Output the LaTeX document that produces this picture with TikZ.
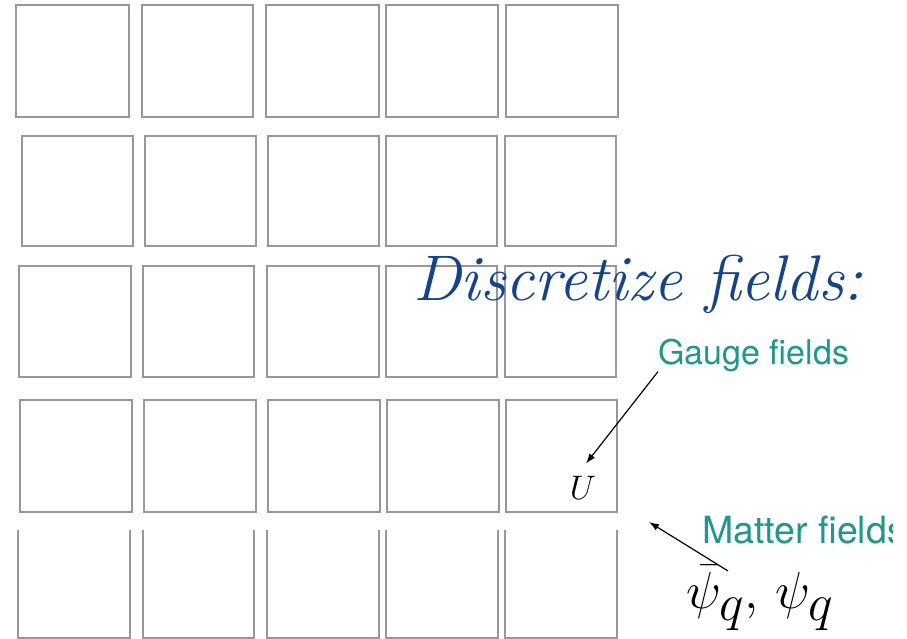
\documentclass[tikz,border=0pt]{standalone}
\usepackage{fix-cm}
\usepackage{fontspec}
\newfontfamily\labelfont{TeX Gyre Heros}
\usetikzlibrary{arrows.meta, positioning}
\definecolor{GridGray}{RGB}{150,152,158}
\definecolor{TitleBlue}{RGB}{22,66,134}
\definecolor{LabelTeal}{RGB}{32,150,140}
\newcommand{\bigsub}[1]{\raisebox{-5pt}{$#1$}}

\begin{document}
\begin{tikzpicture}[
  x=1pt, y=-1pt,
  cell/.style={draw=GridGray, line width=1.8pt},
  lbl/.style={inner sep=0pt, anchor=base west, text=LabelTeal,
              font=\labelfont\fontsize{34}{38}\selectfont},
  arrow/.style={-{Latex[length=10pt, width=7pt]}, line width=1.2pt, black},
]
\useasboundingbox (0,0) rectangle (907,639);

% Lattice, closed cells
\foreach \xl/\xr in {16/129, 142/253, 266/379, 386/498, 506/618}
  \draw[cell] (\xl,5) rectangle (\xr,117);
\foreach \xl/\xr in {22/133, 145/256, 268/379, 386/497, 505/616}
  \draw[cell] (\xl,136) rectangle (\xr,246);
\foreach \xl/\xr in {19/131, 143/254, 267/379, 386/497, 505/616}
  \draw[cell] (\xl,266) rectangle (\xr,377);
\foreach \xl/\xr in {20/132, 144/256, 268/380, 387/499, 506/617}
  \draw[cell] (\xl,400) rectangle (\xr,512);

% Bottom row, open at the top
\foreach \xl/\xr in {18/130, 143/254, 267/379, 386/498, 505/617}
  \draw[cell] (\xl,530) -- (\xl,638) -- (\xr,638) -- (\xr,530);

% Heading
\node[inner sep=0pt, anchor=base west, text=TitleBlue,
      font=\fontsize{64.5}{72}\selectfont\itshape] (title) at (413,300)
  {Discretize fields:};

% Labels
\node[lbl] (gauge) at (658,364) {Gauge fields};
\node[inner sep=0pt, anchor=base, font=\fontsize{34}{40}\selectfont] (u) at (583,499) {$U$};

\begin{scope}
  \clip (0,0) rectangle (892,639);
  \node[lbl, font=\labelfont\fontsize{37.5}{42}\selectfont] (matter) at (702,543) {Matter fields};
\end{scope}
\node[inner sep=0pt, anchor=base west, font=\fontsize{52}{58}\selectfont] (psi) at (686,608)
  {$\bar\psi_{\bigsub{q}},\, \psi_{\bigsub{q}}$};

% Arrows
\coordinate (mtip) at (649,522);
\draw[arrow] (gauge.south west) -- ([xshift=3pt, yshift=12pt]u.north);
\draw[arrow] ([xshift=42pt, yshift=-6pt]psi.north west) -- (mtip);

\end{tikzpicture}
\end{document}
